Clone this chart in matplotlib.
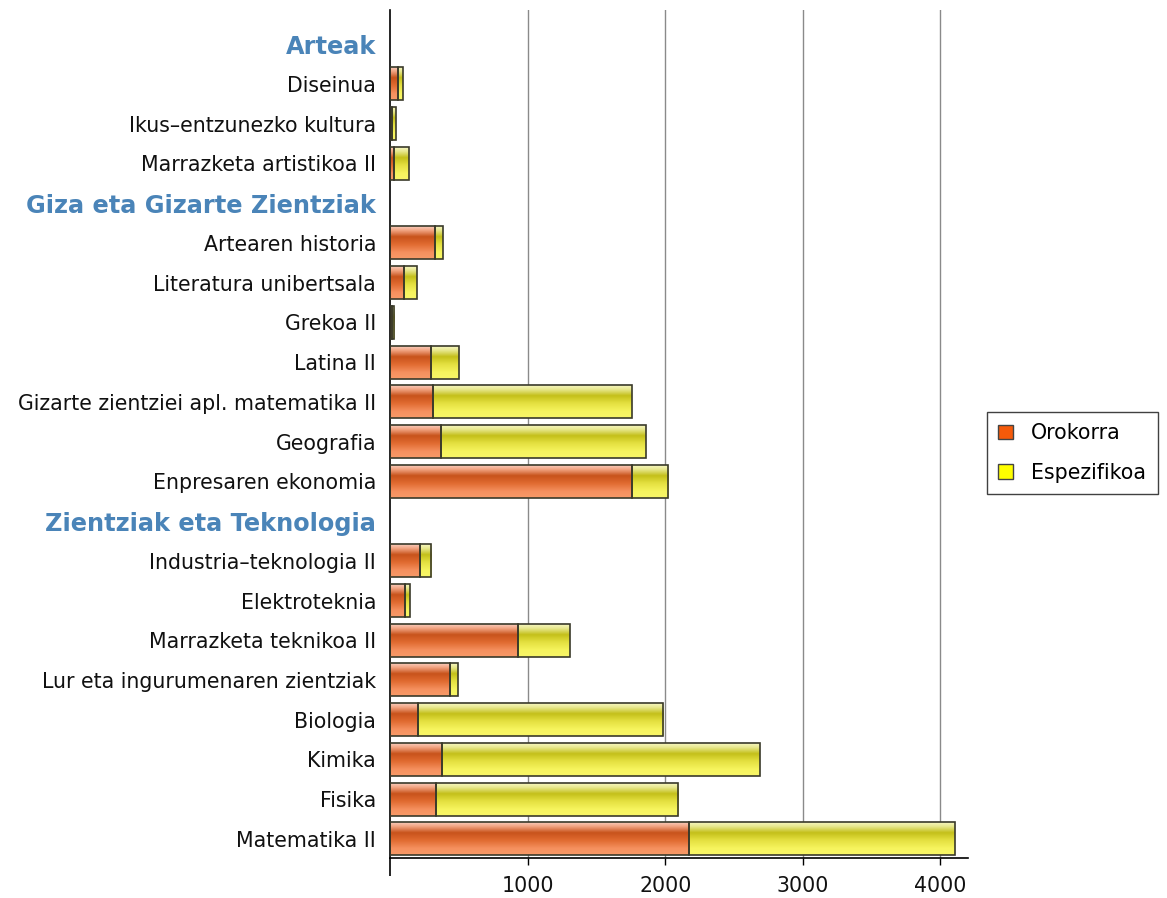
import matplotlib
matplotlib.use("Agg")
import matplotlib.pyplot as plt
import numpy as np
from matplotlib.colors import LinearSegmentedColormap
from matplotlib.patches import Patch

labels = ["Arteak", "Diseinua", "Ikus–entzunezko kultura", "Marrazketa artistikoa II",
          "Giza eta Gizarte Zientziak", "Artearen historia", "Literatura unibertsala",
          "Grekoa II", "Latina II", "Gizarte zientziei apl. matematika II", "Geografia",
          "Enpresaren ekonomia", "Zientziak eta Teknologia", "Industria–teknologia II",
          "Elektroteknia", "Marrazketa teknikoa II", "Lur eta ingurumenaren zientziak",
          "Biologia", "Kimika", "Fisika", "Matematika II"]
headers = ["Arteak", "Giza eta Gizarte Zientziak", "Zientziak eta Teknologia"]
orokorra = [None, 61, 18, 32, None, 324, 105, 15, 297, 311, 370, 1756, None,
            217, 106, 931, 439, 203, 375, 333, 2175]
espezifikoa = [None, 31, 24, 104, None, 58, 89, 15, 202, 1445, 1488, 262, None,
               83, 36, 375, 53, 1783, 2311, 1759, 1930]
series_names = ["Orokorra", "Espezifikoa"]
xticks = [1000, 2000, 3000, 4000]

FS = 14.8
FSB = 17.3

fig = plt.figure(figsize=(11.67, 8.98), dpi=100)
ax = fig.add_axes([390/1167, 1-858/898, (968-390)/1167, (858-10)/898])

idx = [i for i, v in enumerate(orokorra) if v is not None]
pos = np.array(idx, dtype=float)
oro = np.array([orokorra[i] for i in idx], dtype=float)
esp = np.array([espezifikoa[i] for i in idx], dtype=float)

H = 0.83
edge = "#3a3a2a"

def grad_cmap(stops):
    return LinearSegmentedColormap.from_list("g", stops)

cm_or = grad_cmap([(0.0, "#f8cbbb"), (0.12, "#f2a583"), (0.32, "#c8531c"),
                   (0.55, "#e06a30"), (0.8, "#f5905e"), (1.0, "#f89a68")])
cm_ye = grad_cmap([(0.0, "#f6f6c0"), (0.12, "#e8e890"), (0.32, "#c4c01a"),
                   (0.55, "#e4e040"), (0.8, "#f6f45e"), (1.0, "#f8f668")])

grad = np.linspace(0, 1, 64).reshape(-1, 1)

def shade(bars, cmap):
    for p in bars.patches:
        x0, y0, w, h = p.get_x(), p.get_y(), p.get_width(), p.get_height()
        if w <= 0:
            continue
        im = ax.imshow(grad, cmap=cmap, vmin=0, vmax=1, aspect="auto",
                       extent=(x0, x0 + w, y0 + h, y0), origin="upper",
                       zorder=2.1, interpolation="bilinear")
        im.set_clip_path(p)

b1 = ax.barh(pos, oro, height=H, color="#e8733a", zorder=2, linewidth=0)
b2 = ax.barh(pos, esp, left=oro, height=H, color="#e4e040", zorder=2, linewidth=0)
shade(b1, cm_or)
shade(b2, cm_ye)
ax.barh(pos, oro, height=H, fill=False, edgecolor=edge, linewidth=1.2, zorder=3)
ax.barh(pos, esp, left=oro, height=H, fill=False, edgecolor=edge, linewidth=1.2, zorder=3)

ax.set_xlim(0, (968-390)/0.1376)
ax.set_ylim(len(labels) - 1 + 0.48, -0.86)

ax.set_xticks(xticks)
ax.set_xticklabels([str(t) for t in xticks], fontsize=FS, color="#111111")
ax.set_xticks([0], minor=True)
ax.tick_params(axis="x", which="major", length=5, width=1, direction="out", pad=8)
ax.tick_params(axis="x", which="minor", length=13, width=1.2, direction="out")
for xt in xticks:
    ax.axvline(xt, color="#8a8a8a", linewidth=1.0, zorder=1)

ax.set_yticks(range(len(labels)))
ax.set_yticklabels(labels)
ax.tick_params(axis="y", length=0, pad=10)
for lab in ax.get_yticklabels():
    if lab.get_text() in headers:
        lab.set_fontweight("bold")
        lab.set_color("#4a84b8")
        lab.set_fontsize(FSB)
    else:
        lab.set_fontsize(FS)
        lab.set_color("#111111")

for s in ["top", "right"]:
    ax.spines[s].set_visible(False)
ax.spines["left"].set_linewidth(1.2)
ax.spines["bottom"].set_linewidth(1.2)

handles = [Patch(facecolor="#f55a0a", edgecolor="#444444", linewidth=1),
           Patch(facecolor="#ffff00", edgecolor="#444444", linewidth=1)]
leg = fig.legend(handles, series_names, loc="upper left",
                 bbox_to_anchor=(987/1167, 1-412/898), bbox_transform=fig.transFigure,
                 borderaxespad=0, fancybox=False, frameon=True, fontsize=FS,
                 handlelength=0.7, handleheight=0.7, handletextpad=0.9,
                 borderpad=0.55, labelspacing=0.95)
leg.get_frame().set_edgecolor("#111111")
leg.get_frame().set_linewidth(1.0)

fig.savefig("out.png", dpi=100, facecolor="white")
